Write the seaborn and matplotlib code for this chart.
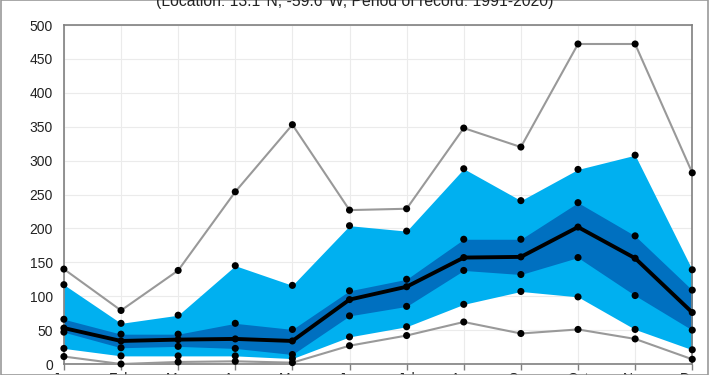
import numpy as np
import pandas as pd
import seaborn as sns
import matplotlib.pyplot as plt
from matplotlib.patches import Rectangle

months = ["Jan", "Feb", "Mar", "Apr", "May", "Jun", "Jul",
          "Aug", "Sep", "Oct", "Nov", "Dec"]

# monthly rainfall statistics (mm)
r_max = [140, 79, 138, 254, 353, 227, 229, 348, 320, 472, 472, 282]
r_p90 = [117, 60, 72, 145, 116, 204, 196, 288, 241, 287, 308, 139]
r_p75 = [66, 44, 44, 60, 51, 108, 125, 184, 184, 238, 189, 109]
r_med = [53, 34, 36, 37, 34, 95, 114, 157, 158, 202, 156, 76]
r_p25 = [47, 24, 26, 23, 14, 71, 85, 138, 132, 157, 101, 50]
r_p10 = [23, 12, 12, 12, 8, 40, 55, 88, 107, 99, 51, 21]
r_min = [11, 0, 3, 4, 2, 27, 42, 62, 45, 51, 37, 7]

df = pd.DataFrame({"m": np.arange(12), "max": r_max, "p90": r_p90, "p75": r_p75,
                   "med": r_med, "p25": r_p25, "p10": r_p10, "min": r_min})

sns.set_theme(style="whitegrid")
plt.rcParams["font.family"] = ["Liberation Sans", "DejaVu Sans"]

fig = plt.figure(figsize=(7.1, 3.75), dpi=100)
ax = fig.add_axes([0.090, 0.0293, 0.885, 0.904])

light = "#00b0f0"
dark = "#0070c0"
grey = "#999999"

# percentile bands
ax.fill_between(df["m"], df["p10"], df["p90"], color=light, lw=0, zorder=1)
ax.fill_between(df["m"], df["p25"], df["p75"], color=dark, lw=0, zorder=2)

for col in ["max", "min"]:
    sns.lineplot(data=df, x="m", y=col, ax=ax, color=grey, lw=1.5, zorder=3)
sns.lineplot(data=df, x="m", y="med", ax=ax, color="black", lw=2.8, zorder=4)

for col in ["max", "p90", "p75", "med", "p25", "p10", "min"]:
    sns.scatterplot(data=df, x="m", y=col, ax=ax, color="black", s=26,
                    edgecolor="none", zorder=5, clip_on=False)

ax.set_xlim(0, 11)
ax.set_ylim(0, 500)
ax.set_yticks(np.arange(0, 501, 50))
ax.set_xticks(np.arange(12))
ax.set_xticklabels(months)
ax.set_xlabel("")
ax.set_ylabel("")
ax.grid(True, color="#ebebeb", lw=0.8)
ax.set_axisbelow(True)
for s in ax.spines.values():
    s.set_color("#808080")
    s.set_linewidth(1.2)
ax.tick_params(axis="y", length=0, pad=8, labelsize=10, colors="#222222")
ax.tick_params(axis="x", length=4, width=1, color="#808080", pad=2,
               labelsize=10, colors="#222222", bottom=True)

fig.text(0.5, 0.995, "(Location: 13.1°N, -59.6°W, Period of record: 1991-2020)",
         ha="center", va="center", fontsize=11.3, color="#222222")

fig.patches.append(Rectangle((0.001, 0.0), 0.996, 0.999, transform=fig.transFigure,
                             fill=False, edgecolor="#999999", lw=1.2))

fig.savefig("out.png", dpi=100)
